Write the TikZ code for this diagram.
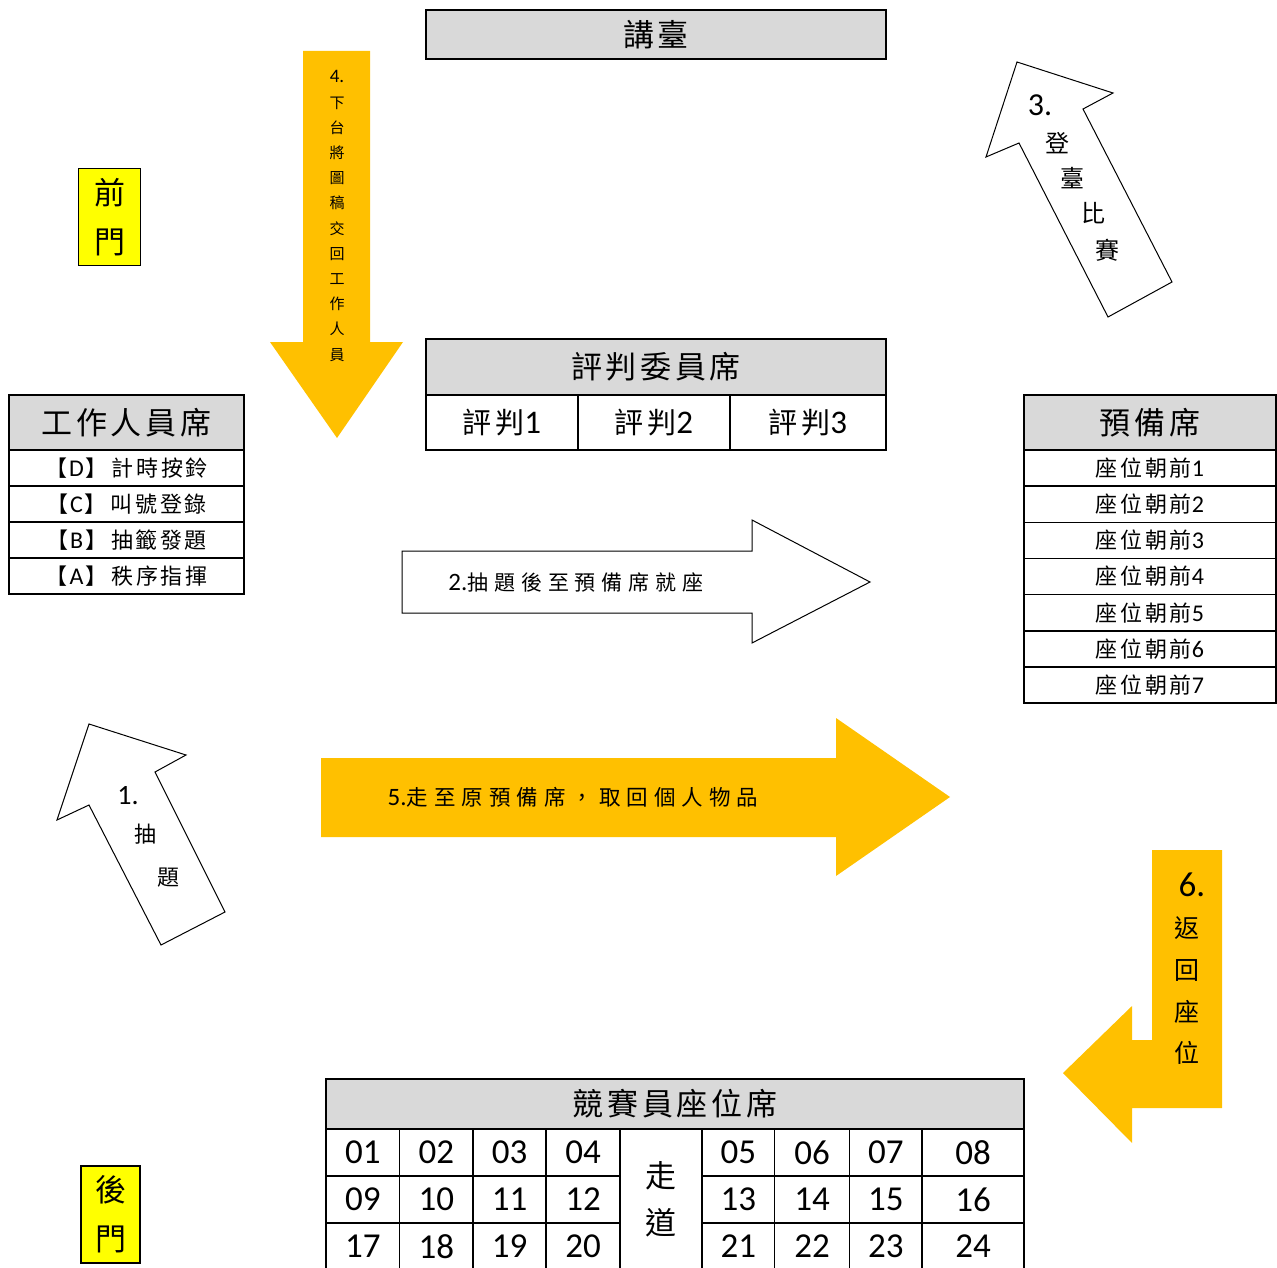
\documentclass[tikz,border=0pt]{standalone}
\usepackage{fontspec}
\usepackage{xcolor}
\usepackage{tikz}
\setmainfont{Carlito}
\newfontfamily\cjk[LetterSpace=12]{Noto Sans CJK TC}
\newfontfamily\cjkwide[LetterSpace=28]{Noto Sans CJK TC}
\newfontfamily\cjkn{Noto Sans CJK TC}
\definecolor{hdrgray}{HTML}{D9D9D9}
\definecolor{arrowgold}{HTML}{FFC000}
\definecolor{dooryellow}{HTML}{FFFF00}

\begin{document}
\begin{tikzpicture}[x=1pt, y=-1pt,
    hdr/.style={rectangle, draw, fill=hdrgray, line width=1.6pt, anchor=north west,
                inner sep=0pt, outer sep=0pt, font=\cjk\fontsize{31}{31}\selectfont},
    row/.style={rectangle, draw, fill=white, line width=1.6pt, anchor=north west,
                inner sep=0pt, outer sep=0pt, font=\cjk\fontsize{22}{22}\selectfont},
    seat/.style={row, font=\fontsize{35}{35}\selectfont},
    door/.style={rectangle, draw, fill=dooryellow, line width=1.6pt, minimum width=62,
                 minimum height=97, inner sep=0pt, align=center, font=\cjkn\fontsize{31}{49}\selectfont},
    goldarrow/.style={fill=arrowgold, draw=none},
    whitearrow/.style={draw, fill=white, line width=1pt, line join=miter},
    steptext/.style={inner sep=0pt, font=\cjkn\fontsize{22}{22}\selectfont},
    stepnum/.style={inner sep=0pt, font=\fontsize{28}{28}\selectfont}
]
    \useasboundingbox (0,0) rectangle (1277,1268);

    % Podium
    \node[hdr, minimum width=460, minimum height=49] (podium) at (426,10) {講臺};

    % Doors
    \node[door] (frontdoor) at (109.5,217) {前\\門};
    \node[door, minimum width=59] (backdoor) at (110.5,1214.5) {後\\門};

    % Staff seats
    \node[hdr, minimum width=235, minimum height=55] (staff) at (9,395) {工作人員席};
    \foreach \k/\t [count=\i from 0] in {D/計時按鈴, C/叫號登錄, B/抽籤發題, A/秩序指揮}
        \node[row, minimum width=235, minimum height=36] (staff\k) at (9,{450+\i*36})
            {{\cjkn 【}\hspace{2pt}{\rmfamily\fontsize{24}{24}\selectfont\k}\hspace{2pt}{\cjkn 】}\hspace{4pt}\t};

    % Judges
    \node[hdr, minimum width=460, minimum height=56] (judges) at (426,339) {評判委員席};
    \foreach \i/\x/\w in {1/426/152, 2/578/152, 3/730/156}
        \node[row, minimum width=\w, minimum height=55, font=\cjk\fontsize{29}{29}\selectfont]
            (judge\i) at (\x,395) {評判{\rmfamily\fontsize{33}{33}\selectfont\i}};

    % Standby seats
    \node[hdr, minimum width=252, minimum height=55] (standby) at (1024,395) {預備席};
    \foreach \i in {1,...,7}
        \node[row, minimum width=252, minimum height=36.15] (ready\i) at (1024,{450+(\i-1)*36.15})
            {座位朝前{\rmfamily\fontsize{24}{24}\selectfont\i}};

    % Contestant seats
    \node[hdr, minimum width=698, minimum height=50] (contest) at (326,1079) {競賽員座位席};
    \foreach \x/\w [count=\c from 0] in {326/73.5, 399.5/73.5, 473/73, 546/74,
                                        702/72.5, 774.5/75, 849.5/72.5, 922/102}
        \foreach \r in {0,1,2} {
            \pgfmathtruncatemacro{\n}{\r*8+\c+1}
            \node[seat, minimum width=\w, minimum height=47] (seat\n) at (\x,{1129+\r*47})
                {\ifnum\n<10 0\fi\n};
        }
    \node[row, minimum width=82, minimum height=141, align=center,
          font=\cjkn\fontsize{31}{47}\selectfont] (aisle) at (620,1129) {走\\道};

    % Step 1
    \draw[whitearrow] (89,724) -- (186,755) -- (155,772) -- (225,912) -- (161,945)
        -- (89,805) -- (57,820) -- cycle;
    \node[stepnum] (s1num) at (128,796) {1.};
    \node[steptext] (s1a) at (145,834) {抽};
    \node[steptext] (s1b) at (168,878) {題};

    % Step 2
    \draw[whitearrow] (402,551) -- (752,551) -- (752,520) -- (870,582) -- (752,643)
        -- (752,613) -- (402,613) -- cycle;
    \node[inner sep=0pt, font=\cjkwide\fontsize{21}{21}\selectfont] (s2txt) at (576,582)
        {{\rmfamily\fontsize{25}{25}\selectfont 2.}抽題後至預備席就座};

    % Step 3
    \draw[whitearrow] (1017,62) -- (1113,93) -- (1083,109) -- (1172,282) -- (1108,317)
        -- (1019,143) -- (986,157) -- cycle;
    \node[stepnum, font=\fontsize{32}{32}\selectfont] (s3num) at (1040,105) {3.};
    \node[steptext, font=\cjkn\fontsize{24}{24}\selectfont] (s3a) at (1057,143) {登};
    \node[steptext, font=\cjkn\fontsize{24}{24}\selectfont] (s3b) at (1072,178) {臺};
    \node[steptext, font=\cjkn\fontsize{24}{24}\selectfont] (s3c) at (1093,213) {比};
    \node[steptext, font=\cjkn\fontsize{24}{24}\selectfont] (s3d) at (1107,250) {賽};

    % Step 4
    \fill[goldarrow] (303,51) -- (370,51) -- (370,342) -- (403,342) -- (337,438)
        -- (270,342) -- (303,342) -- cycle;
    \node[inner sep=0pt, align=center, font=\cjkn\fontsize{15}{25.2}\selectfont] (s4txt) at (337,216)
        {{\rmfamily\fontsize{19}{19}\selectfont 4.}\\下\\台\\將\\圖\\稿\\交\\回\\工\\作\\人\\員};

    % Step 5
    \fill[goldarrow] (321,758) -- (836,758) -- (836,718) -- (950,797) -- (836,876)
        -- (836,837) -- (321,837) -- cycle;
    \node[inner sep=0pt, font=\cjkwide\fontsize{21.5}{21.5}\selectfont] (s5txt) at (573,797)
        {{\rmfamily\fontsize{25}{25}\selectfont 5.}走至原預備席，取回個人物品};

    % Step 6
    \fill[goldarrow] (1152,850) -- (1222,850) -- (1222,1108) -- (1132,1108) -- (1132,1143)
        -- (1063,1073) -- (1132,1006) -- (1132,1040) -- (1152,1040) -- cycle;
    \node[stepnum, font=\fontsize{35}{35}\selectfont] (s6num) at (1192,885) {6.};
    \node[inner sep=0pt, align=center, font=\cjkn\fontsize{25}{41.7}\selectfont] (s6txt) at (1187,991)
        {返\\回\\座\\位};
\end{tikzpicture}
\end{document}
